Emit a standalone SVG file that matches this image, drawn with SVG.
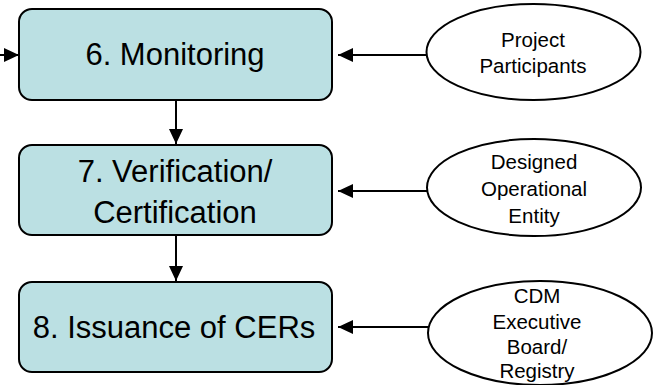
<svg xmlns="http://www.w3.org/2000/svg" width="653" height="385" viewBox="0 0 653 385">
<defs>
<style>
.box{fill:#BBE0E3;stroke:#000;stroke-width:2}
.ell{fill:#fff;stroke:#000;stroke-width:2}
.big{font-family:"Liberation Sans",Arial,sans-serif;font-size:31px;fill:#000;text-anchor:middle}
.sm{font-family:"Liberation Sans",Arial,sans-serif;font-size:20.5px;fill:#000;text-anchor:middle}
.ln{stroke:#000;stroke-width:2;fill:none}
</style>
<marker id="ah" viewBox="0 0 15 14" refX="15" refY="7" markerWidth="15" markerHeight="14" markerUnits="userSpaceOnUse" orient="auto">
<path d="M0,0 L15,7 L0,14 Z" fill="#000"/>
</marker>
</defs>
<g id="connectors">
<line class="ln" x1="176" y1="100" x2="176" y2="144" marker-end="url(#ah)"/>
<line class="ln" x1="176" y1="235" x2="176" y2="281" marker-end="url(#ah)"/>
<line class="ln" x1="0" y1="55" x2="19" y2="55" marker-end="url(#ah)"/>
<line class="ln" x1="427" y1="55" x2="338" y2="55" marker-end="url(#ah)"/>
<line class="ln" x1="427" y1="191" x2="338" y2="191" marker-end="url(#ah)"/>
<line class="ln" x1="428" y1="327" x2="338" y2="327" marker-end="url(#ah)"/>
</g>
<g id="monitoring">
<rect class="box" x="19" y="9" width="313" height="91" rx="13"/>
<text class="big" x="175" y="65">6. Monitoring</text>
</g>
<g id="verification">
<rect class="box" x="19" y="145" width="313" height="90" rx="13"/>
<text class="big" x="175" y="182">7. Verification/</text>
<text class="big" x="175" y="223">Certification</text>
</g>
<g id="issuance">
<rect class="box" x="19" y="282" width="313" height="90" rx="13"/>
<text class="big" x="174" y="338">8. Issuance of CERs</text>
</g>
<g id="participants">
<ellipse class="ell" cx="533.5" cy="52" rx="107" ry="48"/>
<text class="sm" x="533" y="47">Project</text>
<text class="sm" x="533" y="73">Participants</text>
</g>
<g id="doe">
<ellipse class="ell" cx="534" cy="187.5" rx="107" ry="48.5"/>
<text class="sm" x="534" y="169">Designed</text>
<text class="sm" x="534" y="196">Operational</text>
<text class="sm" x="534" y="223">Entity</text>
</g>
<g id="cdm">
<ellipse class="ell" cx="540" cy="333" rx="112" ry="52"/>
<text class="sm" x="537" y="303">CDM</text>
<text class="sm" x="537" y="329">Executive</text>
<text class="sm" x="537" y="354">Board/</text>
<text class="sm" x="537" y="378">Registry</text>
</g>
</svg>
